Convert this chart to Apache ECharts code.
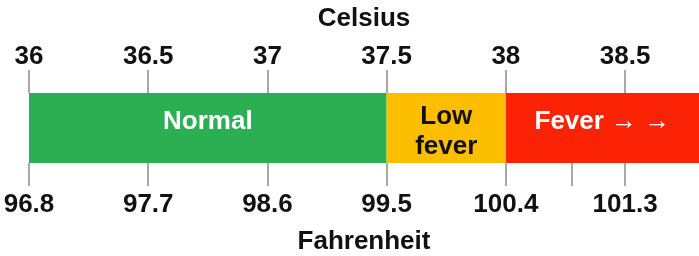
<!DOCTYPE html>
<html><head><meta charset="utf-8">
<script src="https://cdn.jsdelivr.net/npm/echarts@6/dist/echarts.min.js"></script>
<style>html,body{margin:0;padding:0;background:#fff}#c{width:699px;height:256px}</style>
</head><body><div id="c"></div>
<script>
// ---- data ----
const celsiusTicks = [36, 36.5, 37, 37.5, 38, 38.5];
const fahrenheitTicks = [96.8, 97.7, 98.6, 99.5, 100.4, 101.3];
const extraFahrenheitTicks = [100.9];
const bandNames = ['Normal', 'Low\nfever', 'Fever \u2192 \u2192'];
const bandStart = [36, 37.5, 38];
const bandEnd = [37.5, 38, 40];
const celsiusMin = 36;
const celsiusMax = 38.81;

// ---- styles ----
const bandColors = ['#2BAF52', '#FDBE00', '#FC2205'];
const bandTextColors = ['#ffffff', '#111111', '#ffffff'];
const bandTextOffsets = [[0, -6], [0, 4], [0, -6]];
const FONT = '"Liberation Sans", Arial, Helvetica, sans-serif';

const toF = c => Math.round((c * 1.8 + 32) * 1000) / 1000;

const chart = echarts.init(document.getElementById('c'), null, {renderer: 'canvas'});
const tickStyle = {show: true, inside: false, length: 23, lineStyle: {color: '#8c8c8c', width: 1.5}};
const labelStyle = {color: '#111', fontSize: 26, fontWeight: 'bold', fontFamily: FONT};
chart.setOption({
  animation: false,
  grid: {left: 29, right: 0, top: 93, bottom: 89},
  xAxis: [{
    type: 'value', position: 'top', min: celsiusMin, max: celsiusMax,
    name: 'Celsius', nameLocation: 'middle', nameGap: 61,
    nameTextStyle: labelStyle,
    axisLine: {show: false, onZero: false}, splitLine: {show: false},
    axisTick: Object.assign({customValues: celsiusTicks}, tickStyle),
    axisLabel: Object.assign({customValues: celsiusTicks, margin: 23, formatter: v => String(v)}, labelStyle)
  }, {
    type: 'value', position: 'bottom', min: toF(celsiusMin), max: toF(celsiusMax),
    name: 'Fahrenheit', nameLocation: 'middle', nameGap: 66,
    nameTextStyle: labelStyle,
    axisLine: {show: false, onZero: false}, splitLine: {show: false},
    axisTick: Object.assign({customValues: fahrenheitTicks.concat(extraFahrenheitTicks)}, tickStyle),
    axisLabel: Object.assign({customValues: fahrenheitTicks, margin: 28.5, formatter: v => v.toFixed(1)}, labelStyle)
  }],
  yAxis: {type: 'value', min: 0, max: 1, show: false},
  series: [{
    type: 'custom',
    xAxisIndex: 0,
    encode: {x: [0, 1]},
    data: bandStart.map((s, i) => [s, bandEnd[i]]),
    renderItem: function (params, api) {
      const i = params.dataIndex;
      const p0 = api.coord([api.value(0), 1]);
      const p1 = api.coord([api.value(1), 0]);
      const cs = params.coordSys;
      const shape = echarts.graphic.clipRectByRect(
        {x: p0[0], y: p0[1], width: p1[0] - p0[0], height: p1[1] - p0[1]},
        {x: cs.x, y: cs.y, width: cs.width, height: cs.height});
      if (!shape) return;
      return {
        type: 'rect', shape: shape,
        style: {fill: bandColors[i]},
        textContent: {style: {text: bandNames[i], fill: bandTextColors[i],
          fontSize: 26, fontWeight: 'bold', fontFamily: FONT,
          align: 'center', verticalAlign: 'middle', lineHeight: 30}},
        textConfig: {position: 'inside', offset: bandTextOffsets[i]}
      };
    }
  }]
});
</script></body></html>
